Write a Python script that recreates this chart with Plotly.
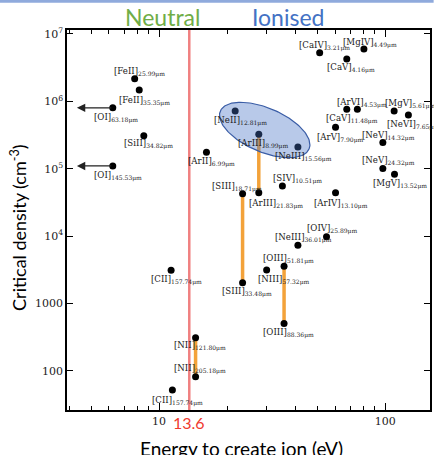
import numpy as np
import plotly.graph_objects as go

# Fine-structure lines: species, wavelength (micron), ionisation energy needed
# to create the emitting ion (eV) and critical density (cm^-3)
species = ["[FeII]", "[FeII]", "[OI]", "[SiII]", "[OI]", "[ArII]", "[NeII]",
           "[CaIV]", "[MgIV]", "[CaV]", "[ArVI]", "[CaV]", "[MgV]", "[NeVI]",
           "[ArV]", "[NeV]", "[ArIII]", "[NeIII]", "[NeV]", "[MgV]", "[SIV]",
           "[SIII]", "[ArIII]", "[ArIV]", "[OIV]", "[NeIII]", "[OIII]", "[NIII]",
           "[SIII]", "[OIII]", "[NII]", "[NII]", "[CII]", "[CII]"]
wavelength = ["25.99", "35.35", "63.18", "34.82", "145.53", "6.99", "12.81",
              "3.21", "4.49", "4.16", "4.53", "11.48", "5.61", "7.65",
              "7.90", "14.32", "8.99", "15.56", "24.32", "13.52", "10.51",
              "18.71", "21.83", "13.10", "25.89", "36.01", "51.81", "57.32",
              "33.48", "88.36", "121.80", "205.18", "157.74", "157.74"]
energy = [7.80, 8.17, 6.24, 8.56, 6.24, 16.2, 21.7,
          51.3, 80.5, 67.6, 75.3, 67.6, 109.5, 126.6,
          60.3, 97.6, 27.6, 41.1, 97.6, 109.9, 35.1,
          23.4, 27.6, 60.3, 55.0, 41.1, 35.7, 29.9,
          23.4, 35.7, 14.5, 14.5, 11.45, 11.3]
ncrit = [2.16e6, 1.47e6, 8.0e5, 3.09e5, 1.10e5, 1.75e5, 7.2e5,
         5.26e6, 5.97e6, 4.24e6, 7.6e5, 7.6e5, 7.2e5, 6.27e5,
         4.11e5, 2.46e5, 3.24e5, 2.10e5, 1.01e5, 8.3e4, 5.54e4,
         4.26e4, 4.40e4, 4.40e4, 9.8e3, 7.3e3, 3.57e3, 3.14e3,
         2.04e3, 508, 311, 82, 52, 3110]

# Line pairs of the same ion (density diagnostics)
pairs = [(16, 22), (21, 28), (26, 29), (30, 31)]
# Neutral species: arrows pointing towards zero energy
neutral = [2, 4]
arrow_tip_ev = 4.33

hydrogen_ip = 13.6

x_ticks = [10, 100]
x_minor = [4, 5, 6, 7, 8, 9, 20, 30, 40, 50, 60, 70, 80, 90]
y_ticks = [100, 1000, 1e4, 1e5, 1e6, 1e7]
y_ticktext = ["100", "1000", "10<sup>4</sup>", "10<sup>5</sup>",
              "10<sup>6</sup>", "10<sup>7</sup>"]

# label placement around each dot (pixels, +dy = downwards)
label_dx = [-23, -22.6, -20.4, -22.3, -21, -20.7, -23.3,
            -23, -22.6, -21.3, -22.7, -23, -11.4, -23.3,
            -21, -23, -22.7, -25, -23, -23.7, -11,
            -32.7, -12, -24, -22, -24.7, -22.7, -10.6,
            -22.7, -23, -23.2, -23.3, -22.3, -22]
label_dy = [-8, 9.3, 8.3, 7, 9, 8.4, 9,
            -8.7, -8, 7.7, -8.3, 8, -8.3, 8.3,
            9.4, -8, 8.4, 8.7, -9, 8.7, -9,
            -8, 9.6, 9.6, -9.4, -9.3, -8.6, 8.3,
            8, 8.4, 7, -9, 9, 8]

XR = [0.5928, 2.198]
YR = [1.421, 7.058]
serif = "DejaVu Serif"
sans = "Lato"

fig = go.Figure()

# hydrogen ionisation edge
fig.add_trace(go.Scatter(x=[hydrogen_ip, hydrogen_ip], y=[10 ** YR[0], 10 ** YR[1]],
                         mode="lines", line=dict(color="rgb(240,128,128)", width=2.5),
                         hoverinfo="skip", showlegend=False))

# same-ion pairs
for a, b in pairs:
    fig.add_trace(go.Scatter(x=[energy[a], energy[b]], y=[ncrit[a], ncrit[b]],
                             mode="lines", line=dict(color="#F3A23A", width=3.5),
                             hoverinfo="skip", showlegend=False))

fig.add_trace(go.Scatter(x=energy, y=ncrit, mode="markers",
                         marker=dict(color="black", size=7),
                         text=[s + w for s, w in zip(species, wavelength)],
                         hoverinfo="text", showlegend=False))

# highlighted group (NeII / ArIII / NeIII) as a tilted ellipse
t = np.linspace(0, 2 * np.pi, 181)
cx, cy = 265.8, 130.0          # centre in axis pixels
a_px, b_px, ang = 48.5, 22.0, np.deg2rad(23)
ppd_x = 365 / (XR[1] - XR[0])
ppd_y = 380 / (YR[1] - YR[0])
ex = cx + a_px * np.cos(ang) * np.cos(t) - b_px * np.sin(ang) * np.sin(t)
ey = cy + a_px * np.sin(ang) * np.cos(t) + b_px * np.cos(ang) * np.sin(t)
ell_x = 10 ** (XR[0] + (ex - 67) / ppd_x)
ell_y = 10 ** (YR[1] - (ey - 30) / ppd_y)
fig.add_trace(go.Scatter(x=ell_x, y=ell_y, mode="lines", fill="toself",
                         fillcolor="rgba(68,114,196,0.38)",
                         line=dict(color="#3A5DA6", width=1.2),
                         hoverinfo="skip", showlegend=False))

annotations = []
for i, (s, w) in enumerate(zip(species, wavelength)):
    annotations.append(dict(
        x=np.log10(energy[i]), y=np.log10(ncrit[i]), xref="x", yref="y",
        text=f"{s}<sub>{w}\u03bcm</sub>", showarrow=False,
        xanchor="left", yanchor="middle",
        xshift=label_dx[i], yshift=-label_dy[i] - 1.5,
        font=dict(family=serif, size=8.6, color="#1a1a1a")))

for i in neutral:
    annotations.append(dict(
        x=np.log10(arrow_tip_ev), y=np.log10(ncrit[i]), xref="x", yref="y",
        ax=np.log10(energy[i]), ay=np.log10(ncrit[i]), axref="x", ayref="y",
        showarrow=True, arrowhead=2, arrowsize=1.4, arrowwidth=1.2,
        arrowcolor="#222", standoff=0, startstandoff=0, text=""))

annotations += [
    dict(x=0.1534, y=1.035, xref="paper", yref="paper", text="Neutral",
         showarrow=False, yanchor="middle",
         font=dict(family=sans, size=23, color="#70AD47")),
    dict(x=0.7142, y=1.035, xref="paper", yref="paper", text="Ionised",
         showarrow=False, yanchor="middle",
         font=dict(family=sans, size=23, color="#4472C4")),
    dict(x=np.log10(hydrogen_ip), y=-0.034, xref="x", yref="paper", text="13.6",
         showarrow=False, yanchor="middle",
         font=dict(family=sans, size=16, color="#F03A2E")),
    dict(x=0.4795, y=-0.1, xref="paper", yref="paper",
         text="Energy to create ion (eV)", showarrow=False, yanchor="middle",
         font=dict(family=sans, size=19, color="black")),
    dict(x=-0.1342, y=0.48, xref="paper", yref="paper", textangle=-90,
         text="Critical density (cm<sup>-3</sup>)", showarrow=False,
         xanchor="center", yanchor="middle",
         font=dict(family=sans, size=18, color="black")),
]

fig.update_layout(
    width=434, height=455,
    margin=dict(l=67, r=2, t=30, b=45),
    paper_bgcolor="white", plot_bgcolor="white",
    annotations=annotations,
    shapes=[dict(type="rect", xref="paper", yref="paper",
                 x0=-0.19, x1=1.01, y0=1.0718, y1=1.08,
                 fillcolor="#8FAADC", line=dict(width=0))],
    xaxis=dict(type="log", range=XR, showline=True, linecolor="black",
               linewidth=1.5, mirror="allticks", ticks="inside", ticklen=7,
               tickwidth=1, tickcolor="black", tickvals=x_ticks,
               ticktext=[str(v) for v in x_ticks],
               tickfont=dict(family=serif, size=11, color="#222"),
               showgrid=False, zeroline=False,
               minor=dict(ticks="inside", ticklen=4, tickwidth=1,
                          tickcolor="black", tickvals=x_minor, showgrid=False)),
    yaxis=dict(type="log", range=YR, showline=True, linecolor="black",
               linewidth=1.5, mirror="allticks", ticks="inside", ticklen=6,
               tickwidth=1, tickcolor="black", tickvals=y_ticks,
               ticktext=y_ticktext,
               tickfont=dict(family=serif, size=11, color="#222"),
               showgrid=False, zeroline=False),
)

fig.write_html("out.html")
